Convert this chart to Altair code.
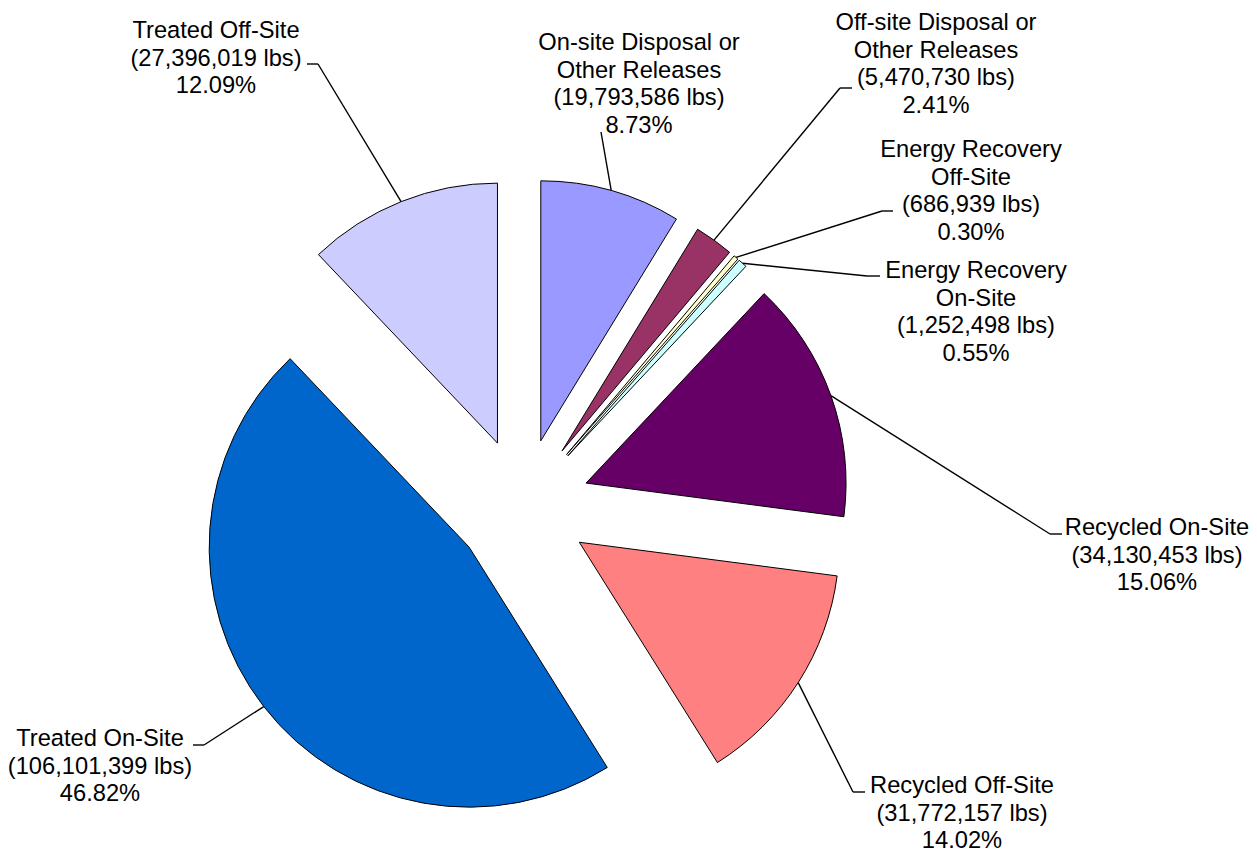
import altair as alt
import pandas as pd

# ---- data ----
categories = [
    "On-site Disposal or Other Releases",
    "Off-site Disposal or Other Releases",
    "Energy Recovery Off-Site",
    "Energy Recovery On-Site",
    "Recycled On-Site",
    "Recycled Off-Site",
    "Treated On-Site",
    "Treated Off-Site",
]
label_names = [
    "On-site Disposal or\nOther Releases",
    "Off-site Disposal or\nOther Releases",
    "Energy Recovery\nOff-Site",
    "Energy Recovery\nOn-Site",
    "Recycled On-Site",
    "Recycled Off-Site",
    "Treated On-Site",
    "Treated Off-Site",
]
pounds = [19793586, 5470730, 686939, 1252498, 34130453, 31772157, 106101399, 27396019]
colors = ["#9999FF", "#993366", "#FFFFCC", "#CCFFFF", "#660066", "#FF8080", "#0066CC", "#CCCCFF"]

# ---- label layout (page pixels; manual data-label placement) ----
label_x = [639, 936, 971, 976, 1157, 962, 100, 216]
label_y = [50, 30, 157, 278, 535, 793, 746, 38]
elbow_x = [601, 840, 882, 867, 1050, 853, 204, 318]
elbow_y = [132, 88, 211, 276, 534, 792, 745, 64]
end_x = [601, 852, 893, 880, 1062, 865, 193, 307]

# ---- geometry / style ----
W, H = 1241, 845
CX, CY = 522.5, 505.8
RADIUS = 260
EXPLODE = 67.5
FONT = "Liberation Sans"

total = sum(pounds)
labels = [
    f"{n}\n({v:,} lbs)\n{v / total * 100:.2f}%" for n, v in zip(label_names, pounds)
]

df = pd.DataFrame({
    "order": list(range(len(categories))),
    "category": categories,
    "pounds": pounds,
    "label": labels,
    "label_x": label_x,
    "label_y": label_y,
    "elbow_x": elbow_x,
    "elbow_y": elbow_y,
    "end_x": end_x,
})

xs = alt.Scale(domain=[8, 8 + W], nice=False, zero=False)
ys = alt.Scale(domain=[8, 8 + H], nice=False, zero=False, reverse=True)

base = (
    alt.Chart(df)
    .transform_joinaggregate(total="sum(pounds)")
    .transform_window(cum="sum(pounds)", sort=[alt.SortField("order")], frame=[None, 0])
    .transform_calculate(t0="2*PI*(datum.cum-datum.pounds)/datum.total")
    .transform_calculate(t1="2*PI*datum.cum/datum.total")
    .transform_calculate(mid="(datum.t0+datum.t1)/2")
    .transform_calculate(cx=f"{CX}+{EXPLODE}*sin(datum.mid)")
    .transform_calculate(cy=f"{CY}-{EXPLODE}*cos(datum.mid)")
    .transform_calculate(lx=f"{CX}+{EXPLODE + RADIUS}*sin(datum.mid)")
    .transform_calculate(ly=f"{CY}-{EXPLODE + RADIUS}*cos(datum.mid)")
)

slices = base.mark_arc(radius=RADIUS, stroke="black", strokeWidth=1).encode(
    x=alt.X("cx:Q", scale=xs, axis=None),
    y=alt.Y("cy:Q", scale=ys, axis=None),
    theta=alt.Theta("t0:Q", scale=None, stack=None),
    theta2="t1:Q",
    color=alt.Color("category:N", scale=alt.Scale(domain=categories, range=colors), legend=None),
)

leader = base.mark_rule(color="black", strokeWidth=1.4).encode(
    x=alt.X("lx:Q", scale=xs, axis=None),
    y=alt.Y("ly:Q", scale=ys, axis=None),
    x2="elbow_x:Q",
    y2="elbow_y:Q",
)

leader_h = base.mark_rule(color="black", strokeWidth=1.4).encode(
    x=alt.X("elbow_x:Q", scale=xs, axis=None),
    x2="end_x:Q",
    y=alt.Y("elbow_y:Q", scale=ys, axis=None),
)

text = base.mark_text(
    align="center", baseline="alphabetic", lineBreak="\n",
    fontSize=23.7, lineHeight=27.5, font=FONT, color="black",
).encode(
    x=alt.X("label_x:Q", scale=xs, axis=None),
    y=alt.Y("label_y:Q", scale=ys, axis=None),
    text="label:N",
)

chart = (
    alt.layer(slices, leader, leader_h, text)
    .properties(width=W, height=H, padding=0, autosize=alt.AutoSizeParams(type="none"), background="white")
    .configure_view(stroke=None)
)

chart.save("out.html", embed_options={"renderer": "svg", "actions": False})
